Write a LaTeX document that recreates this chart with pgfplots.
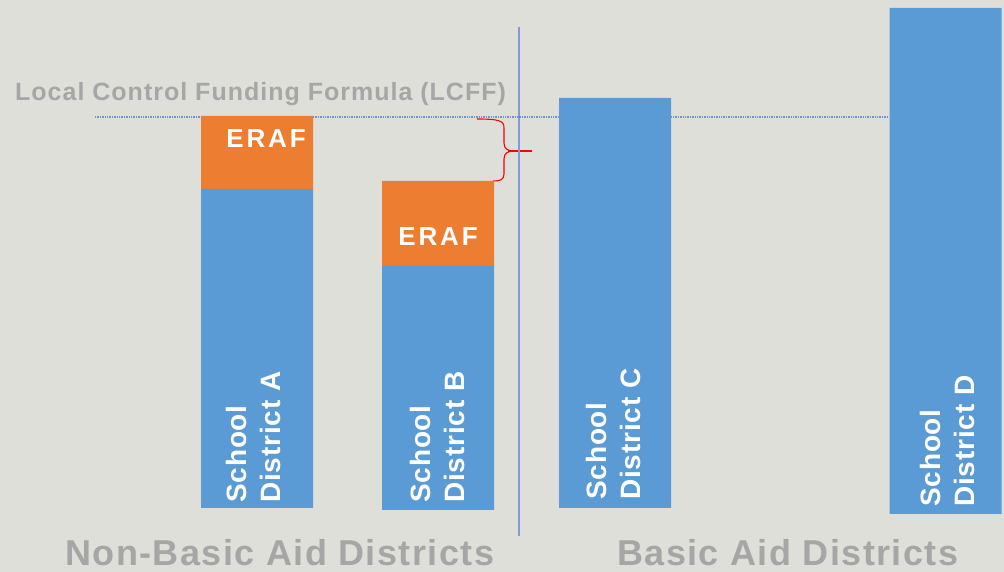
\documentclass[border=0pt]{standalone}
\usepackage{pgfplots}
\pgfplotsset{compat=1.18}
\usepackage{fontspec}
\setmainfont{Liberation Sans}
\newfontfamily\bigtrack[LetterSpace=4]{Liberation Sans}
\newfontfamily\toptrack[LetterSpace=4]{Liberation Sans}
\newfontfamily\eraftrack[LetterSpace=11]{Liberation Sans}
\newfontfamily\labtrack[LetterSpace=3]{Liberation Sans}
\definecolor{bg}{HTML}{DFDFDA}
\definecolor{barblue}{HTML}{5B9BD5}
\definecolor{barorange}{HTML}{ED7D31}
\definecolor{txtgray}{HTML}{A6A6A6}
\definecolor{vline}{HTML}{7F9CD8}
\definecolor{dotline}{HTML}{4472C4}

\begin{document}
\begin{tikzpicture}
\fill[bg] (0,0) rectangle (1004pt,572pt);
\begin{axis}[
  scale only axis,
  width=1004pt, height=572pt,
  xmin=0, xmax=1004, ymin=0, ymax=572,
  hide axis, clip=false,
  ybar stacked, bar width=112,
]
% invisible base (bars do not all start at the same height)
\addplot[draw=none, fill=none] coordinates {(257,64) (438,62) (615,64) (945.5,58)};
% main bar
\addplot[draw=none, fill=barblue] coordinates {(257,319) (438,244) (615,410) (945.5,506)};
% ERAF part
\addplot[draw=none, fill=barorange] coordinates {(257,73) (438,85) (615,0) (945.5,0)};

% LCFF level and the divider
\draw[dotline, opacity=0.7, densely dotted, line width=1.4pt] (axis cs:95,455) -- (axis cs:201,455);
\draw[dotline, opacity=0.7, densely dotted, line width=1.4pt] (axis cs:313,455) -- (axis cs:889,455);
\draw[vline, line width=1.5pt] (axis cs:519,36) -- (axis cs:519,545);

% red brace
\draw[red, line width=1.1pt] (axis cs:477,453) .. controls (axis cs:500,453) and (axis cs:504,451) .. (axis cs:504,444)
  -- (axis cs:504,429) .. controls (axis cs:504,423) and (axis cs:508,421) .. (axis cs:514,421)
  .. controls (axis cs:508,421) and (axis cs:504,419) .. (axis cs:504,413)
  -- (axis cs:504,398) .. controls (axis cs:504,392) and (axis cs:500,391) .. (axis cs:493,391);
\draw[red, line width=2pt] (axis cs:508,421) -- (axis cs:532,421);

% anchor points for the texts, placed after the axis so they sit on top
\coordinate (lcff) at (axis cs:15,471);
\coordinate (eA) at (axis cs:266,424);
\coordinate (eB) at (axis cs:438,326);
\coordinate (sA) at (axis cs:226,69);
\coordinate (sB) at (axis cs:410,69);
\coordinate (sC) at (axis cs:586,72);
\coordinate (sD) at (axis cs:920,65);
\coordinate (nb) at (axis cs:65,6);
\coordinate (ba) at (axis cs:617,6);
\end{axis}

\node[anchor=base west, inner sep=0, txtgray, font=\toptrack\bfseries\fontsize{25}{30}\selectfont]
  at (lcff) {Local Control Funding Formula (LCFF)};
\node[anchor=base, inner sep=0, white, font=\eraftrack\bfseries\fontsize{26}{30}\selectfont]
  at (eA) {ERAF};
\node[anchor=base, inner sep=0, white, font=\eraftrack\bfseries\fontsize{26}{30}\selectfont]
  at (eB) {ERAF};
\foreach \p/\t in {sA/A, sB/B, sC/C, sD/D}
  \node[rotate=90, anchor=north west, inner sep=0, align=left, white,
        font=\labtrack\bfseries\fontsize{28}{34}\selectfont]
    at (\p) {School\\District \t};
\node[anchor=base west, inner sep=0, txtgray, font=\bigtrack\bfseries\fontsize{36}{40}\selectfont]
  at (nb) {Non-Basic Aid Districts};
\node[anchor=base west, inner sep=0, txtgray, font=\bigtrack\bfseries\fontsize{36}{40}\selectfont]
  at (ba) {Basic Aid Districts};
\end{tikzpicture}
\end{document}
